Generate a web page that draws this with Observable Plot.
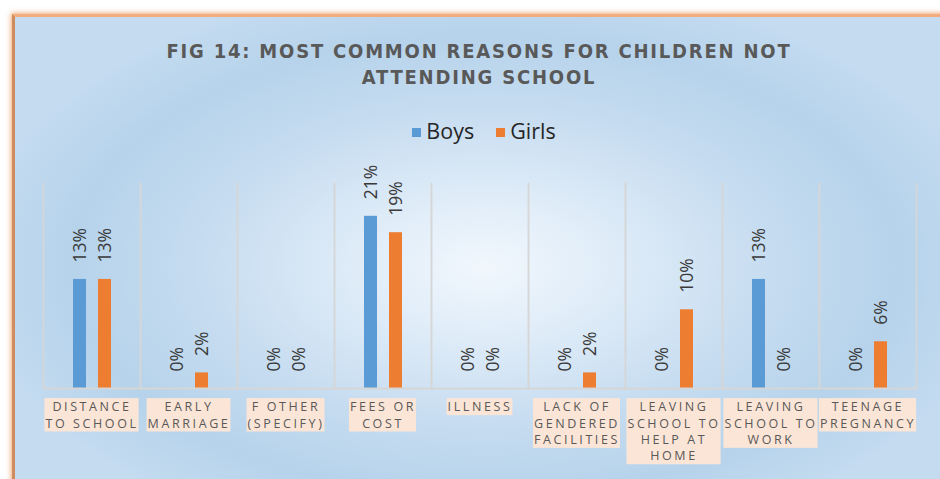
<!DOCTYPE html>
<html><head><meta charset="utf-8">
<script src="https://cdn.jsdelivr.net/npm/d3@7"></script>
<script src="https://cdn.jsdelivr.net/npm/@observablehq/plot@0.6"></script>
<style>
body{margin:0;background:#fff;width:940px;height:479px;overflow:hidden;position:relative;font-family:"Open Sans",sans-serif}
#panel{position:absolute;left:12px;top:14px;width:940px;height:480px;border-top:3px solid #f3ad7c;border-left:3px solid #cf8c5e;box-shadow:-1px -1px 5px rgba(235,150,90,.8);
background:radial-gradient(ellipse 55% 60% at 50% 52%, #f1f7fd 0%, #dfecf8 25%, #c6dcf0 55%, #b6d3eb 80%, #c4dbf0 100%);}
#title{position:absolute;left:12px;width:934px;top:38px;text-align:center;font-family:"DejaVu Sans Condensed",sans-serif;font-weight:bold;font-size:20px;letter-spacing:1.8px;line-height:26px;color:#595959}
#legend{position:absolute;top:116px;left:0;width:968px;display:flex;justify-content:center;align-items:center;gap:22px;font-family:"Open Sans",sans-serif;font-size:21.5px;color:#262626}
#legend span.sw{display:inline-block;width:9px;height:9px;margin-right:5px;vertical-align:middle;position:relative;top:-1px}
#chart{position:absolute;left:0;top:160px}
</style></head>
<body>
<div id="panel"></div>
<div id="title">FIG 14: MOST COMMON REASONS FOR CHILDREN NOT<br>ATTENDING SCHOOL</div>
<div id="legend"></div>
<div id="chart"></div>
<script>
const categories = ["Distance to school","Early marriage","If other (specify)","Fees or cost","Illness","Lack of gendered facilities","Leaving school to help at home","Leaving school to work","Teenage pregnancy"];
const tickLabels = ["DISTANCE\nTO SCHOOL","EARLY\nMARRIAGE","F OTHER\n(SPECIFY)","FEES OR\nCOST","ILLNESS","LACK OF\nGENDERED\nFACILITIES","LEAVING\nSCHOOL TO\nHELP AT\nHOME","LEAVING\nSCHOOL TO\nWORK","TEENAGE\nPREGNANCY"];
const series = ["Boys","Girls"];
const boys = [13.3, 0, 0, 21, 0, 0, 0, 13.3, 0];
const girls = [13.3, 1.9, 0, 19, 0, 1.9, 9.6, 0, 5.7];
const colors = ["#5b9bd5","#ed7d31"];

const rows = categories.flatMap((c,i)=>[{cat:c,s:"Boys",v:boys[i]},{cat:c,s:"Girls",v:girls[i]}]);

const legend = document.getElementById("legend");
series.forEach((s,i)=>{
  const it = document.createElement("span");
  it.innerHTML = `<span class="sw" style="background:${colors[i]}"></span>${s}`;
  legend.appendChild(it);
});

const plot = Plot.plot({
  width:940, height:319, marginLeft:43, marginRight:24, marginTop:23, marginBottom:91,
  style:{background:"transparent", overflow:"visible", fontFamily:"Open Sans, sans-serif"},
  fx:{domain:categories, padding:0, label:null},
  x:{domain:series, paddingInner:0.48, paddingOuter:1.18, align:0.5, axis:null},
  y:{domain:[0,25], axis:null},
  color:{domain:series, range:colors},
  marks:[
    Plot.frame({anchor:"left", stroke:"#d6d6d6", strokeWidth:1.5}),
    Plot.frame({anchor:"right", stroke:"#d6d6d6", strokeWidth:1.5}),
    Plot.barY(rows, {fx:"cat", x:"s", y:"v", fill:"s"}),
    Plot.ruleY([0], {stroke:"#d6d6d6", strokeWidth:2}),
    Plot.text(rows, {fx:"cat", x:"s", y:"v", text:d=>Math.round(d.v)+"%", rotate:-90, textAnchor:"start", dy:-17, fontSize:17.5, fill:"#3a3a3a"}),
    Plot.axisFx({anchor:"bottom", tickSize:0, tickPadding:11, label:null, tickFormat:c=>tickLabels[categories.indexOf(c)], fontSize:12.5, lineHeight:1.31, fill:"#595959"})
  ]
});
document.getElementById("chart").appendChild(plot);

// peach backgrounds behind category labels
plot.querySelectorAll('g[aria-label="fx-axis tick label"] text').forEach(t=>{
  t.style.letterSpacing = "2.6px";
  const b = t.getBBox();
  const r = document.createElementNS("http://www.w3.org/2000/svg","rect");
  r.setAttribute("x", b.x - 1);
  r.setAttribute("y", b.y);
  r.setAttribute("width", b.width + 1);
  r.setAttribute("height", b.height);
  r.setAttribute("fill", "#fbe5d6");
  const tr = t.getAttribute("transform");
  if (tr) r.setAttribute("transform", tr);
  t.parentNode.insertBefore(r, t);
});
</script>
</body></html>
